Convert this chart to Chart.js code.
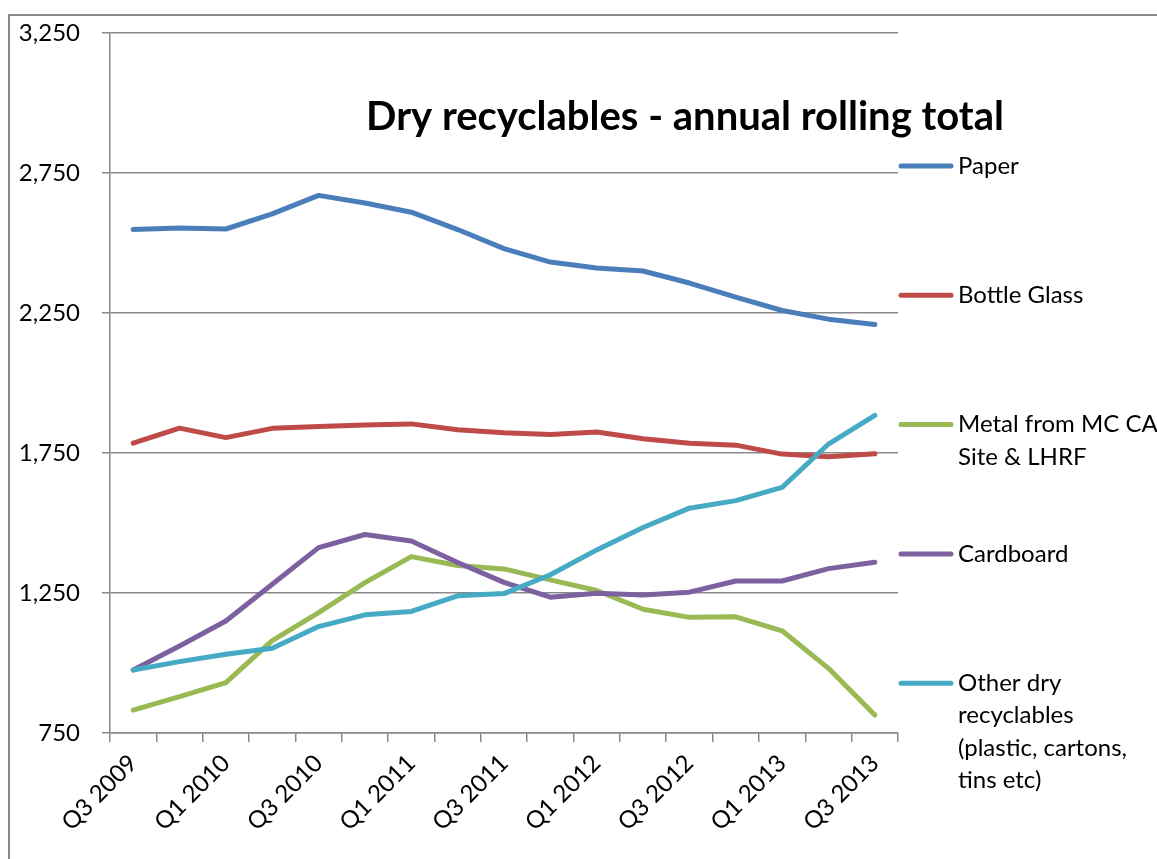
<!DOCTYPE html>
<html>
<head>
<meta charset="utf-8">
<script src="https://cdn.jsdelivr.net/npm/chart.js"></script>
<style>
  html, body { margin: 0; padding: 0; background: #fff; overflow: hidden; }
  #wrap { width: 1157px; height: 859px; position: relative; overflow: hidden; }
  canvas { display: block; }
</style>
</head>
<body>
<div id="wrap"><canvas id="grafico" width="1157" height="859"></canvas></div>
<script>
// Trimestres (eje X)
const trimestres = ["Q3 2009", "Q4 2009", "Q1 2010", "Q2 2010", "Q3 2010", "Q4 2010", "Q1 2011", "Q2 2011",
    "Q3 2011", "Q4 2011", "Q1 2012", "Q2 2012", "Q3 2012", "Q4 2012", "Q1 2013", "Q2 2013", "Q3 2013"];

// Series (total anual acumulado)
const paper = [2548, 2554, 2550, 2604, 2670, 2643, 2610, 2548, 2480, 2432, 2411, 2400, 2357, 2307, 2259, 2228, 2209];
const bottleGlass = [1785, 1839, 1805, 1838, 1845, 1850, 1854, 1833, 1822, 1816, 1825, 1801, 1785, 1778, 1746, 1737, 1747];
const metal = [832, 880, 930, 1080, 1180, 1287, 1380, 1348, 1336, 1297, 1259, 1192, 1163, 1165, 1115, 981, 814];
const cardboard = [975, 1061, 1150, 1281, 1412, 1459, 1436, 1359, 1288, 1235, 1249, 1243, 1253, 1293, 1293, 1337, 1360];
const otherDry = [975, 1005, 1031, 1053, 1130, 1172, 1184, 1240, 1248, 1315, 1404, 1484, 1553, 1580, 1627, 1782, 1884];

// Nombres de las series (en líneas, como en la leyenda)
const nombresSeries = [
    ["Paper"],
    ["Bottle Glass"],
    ["Metal from MC CA", "Site & LHRF"],
    ["Cardboard"],
    ["Other dry", "recyclables", "(plastic, cartons,", "tins etc)"]
];
const colores = ["#4A7EBB", "#BE4B48", "#98B954", "#7D60A0", "#46AAC5"];

// Eje Y
const yMin = 750;
const yMax = 3250;
const yPaso = 500;

const titulo = "Dry recyclables - annual rolling total";

const GRIS = "#898989";
const FUENTE = "Lato, 'Open Sans', sans-serif";

// Plugin: marco exterior, título dentro del gráfico y leyenda a la derecha
const decoracion = {
    id: "decoracion",
    afterDraw(chart) {
        const ctx = chart.ctx;
        const area = chart.chartArea;
        ctx.save();

        // marco exterior
        ctx.strokeStyle = GRIS;
        ctx.lineWidth = 2;
        ctx.beginPath();
        ctx.moveTo(9, 900);
        ctx.lineTo(9, 15);
        ctx.lineTo(1200, 15);
        ctx.stroke();

        // título
        ctx.fillStyle = "#000";
        ctx.font = "bold 40px " + FUENTE;
        ctx.textAlign = "center";
        ctx.textBaseline = "middle";
        ctx.fillText(titulo, 685, 117);

        // leyenda
        ctx.font = "24px " + FUENTE;
        ctx.textAlign = "left";
        chart.data.datasets.forEach((ds, i) => {
            const y = 166 + i * 129.3;
            ctx.strokeStyle = ds.borderColor;
            ctx.lineWidth = 5;
            ctx.lineCap = "round";
            ctx.beginPath();
            ctx.moveTo(area.right + 3, y);
            ctx.lineTo(area.right + 53, y);
            ctx.stroke();
            ctx.fillStyle = "#000";
            nombresSeries[i].forEach((linea, j) => {
                ctx.fillText(linea, area.right + 60, y + j * 32.5);
            });
        });
        ctx.restore();
    }
};

const datasets = [paper, bottleGlass, metal, cardboard, otherDry].map((serie, i) => ({
    label: nombresSeries[i].join(" "),
    data: serie,
    borderColor: colores[i],
    backgroundColor: colores[i],
    borderWidth: 5,
    borderCapStyle: "round",
    borderJoinStyle: "round",
    pointRadius: 0,
    tension: 0,
    order: 5 - i // la última serie se dibuja encima
}));

new Chart(document.getElementById("grafico"), {
    type: "line",
    data: { labels: trimestres, datasets },
    options: {
        responsive: false,
        animation: false,
        layout: { padding: { left: 0, right: 259, top: 33, bottom: 0 } },
        plugins: {
            legend: { display: false },
            title: { display: false },
            tooltip: { enabled: false }
        },
        scales: {
            x: {
                offset: true,
                grid: {
                    offset: true,
                    drawOnChartArea: false,
                    color: GRIS,
                    lineWidth: 1.5,
                    tickLength: 9
                },
                border: { color: GRIS, width: 1.5 },
                ticks: {
                    autoSkip: false,
                    maxRotation: 45,
                    minRotation: 45,
                    padding: 7,
                    color: "#000",
                    font: { family: FUENTE, size: 24 },
                    callback: (v, i) => (i % 2 === 0 ? trimestres[i] : "")
                },
                afterFit: (scale) => { scale.height = 126; }
            },
            y: {
                min: yMin,
                max: yMax,
                grid: { color: GRIS, lineWidth: 1.5, tickLength: 8 },
                border: { color: GRIS, width: 1.5 },
                ticks: {
                    stepSize: yPaso,
                    padding: 22,
                    color: "#000",
                    font: { family: FUENTE, size: 24 },
                    callback: (v) => v.toLocaleString("en-US")
                },
                afterFit: (scale) => {
                    scale.width = 110;
                    scale.paddingTop = 0; // el margen superior lo fija layout.padding
                    scale.paddingBottom = 0;
                }
            }
        }
    },
    plugins: [decoracion]
});
</script>
</body>
</html>
